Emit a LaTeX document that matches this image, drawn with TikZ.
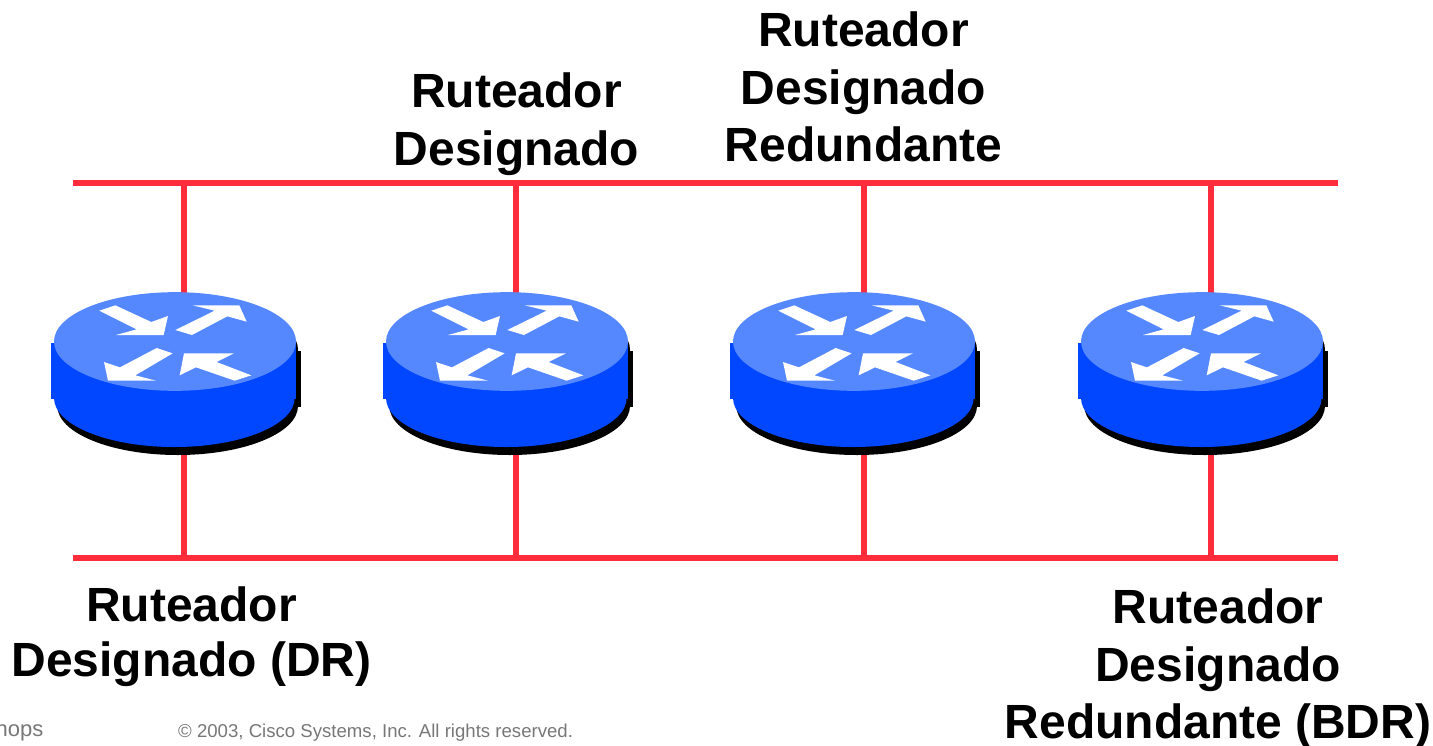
\documentclass[tikz,border=0pt]{standalone}
\usepackage{fontspec}
\setmainfont{Liberation Sans}
\definecolor{netred}{HTML}{FF2D3C}
\definecolor{routertop}{HTML}{5588FF}
\definecolor{routerbody}{HTML}{0047FF}
\definecolor{footgrey}{HTML}{777777}
\tikzset{
  netline/.style={draw=netred,line width=6pt},
  biglabel/.style={font=\fontsize{48}{57.5}\selectfont\bfseries,align=center,inner sep=0pt,text=black},
  footlabel/.style={font=\fontsize{18.6}{22}\selectfont,text=footgrey,inner sep=0pt},
  routerpic/.pic={
    \begin{scope}[x=0.33333pt,y=-0.33333pt,shift={(-435,-214.5)}]
      \fill[black,shift={(15,24)}] (63,218) rectangle (798,386);
      \fill[black,shift={(10,24)}] (433,214.5) ellipse [x radius=361,y radius=148];
      \fill[black,shift={(10,24)}] (433,384) ellipse [x radius=361,y radius=147];
      \fill[routerbody] (63,218) rectangle (798,386);
      \fill[routerbody] (433,384) ellipse [x radius=361,y radius=147];
      \fill[routertop] (435,214.5) ellipse [x radius=363,y radius=148];
      \fill[white] (208,122)--(256,106)--(364,156)--(414,138)--(401,195)--(258,195)--(320,178)--cycle;
      \fill[white] (436,180)--(554,122)--(488,106)--(628,106)--(650,155)--(592,139)--(486,195)--cycle;
      \fill[white] (428,250)--(380,234)--(270,292)--(222,276)--(234,332)--(378,332)--(316,316)--cycle;
      \fill[white] (664,316)--(560,276)--(612,250)--(462,250)--(449,316)--(498,292)--(614,332)--cycle;
    \end{scope}
  }
}
\begin{document}
\begin{tikzpicture}[x=1pt,y=-1pt]
\useasboundingbox (0,0) rectangle (1433,745);
% bus ends and taps
\coordinate (topL) at (73,183);
\coordinate (topR) at (1338,183);
\coordinate (botL) at (73,558);
\coordinate (botR) at (1338,558);
\coordinate (t1) at (183.8,183); \coordinate (b1) at (183.8,558);
\coordinate (t2) at (515.8,183); \coordinate (b2) at (515.8,558);
\coordinate (t3) at (863.8,183); \coordinate (b3) at (863.8,558);
\coordinate (t4) at (1210.8,183); \coordinate (b4) at (1210.8,558);
\draw[netline] (topL) -- (topR);
\draw[netline] (botL) -- (botR);
\draw[netline] (t1) -- (b1);
\draw[netline] (t2) -- (b2);
\draw[netline] (t3) -- (b3);
\draw[netline] (t4) -- (b4);
% routers
\pic (r1) at (175,341.5) {routerpic};
\pic (r2) at (507,341.5) {routerpic};
\pic (r3) at (854,341.5) {routerpic};
\pic (r4) at (1202,341.5) {routerpic};
% labels
\node[biglabel] (l2) at (516.5,124) {Ruteador\\Designado};
\node[biglabel] (l3) at (863.5,87) {Ruteador\\Designado\\Redundante};
\node[biglabel,font=\fontsize{48}{55}\selectfont\bfseries] (l1) at (191.5,637) {Ruteador\\Designado (DR)};
\node[biglabel] (l4) at (1218,669) {Ruteador\\Designado\\Redundante (BDR)};
\node[footlabel,anchor=base east,font=\fontsize{22}{24}\selectfont] (f1) at (43.5,736) {hops};
\node[footlabel,anchor=base west] (f2) at (178,737) {© 2003, Cisco Systems, Inc. All rights reserved.};
\end{tikzpicture}
\end{document}
